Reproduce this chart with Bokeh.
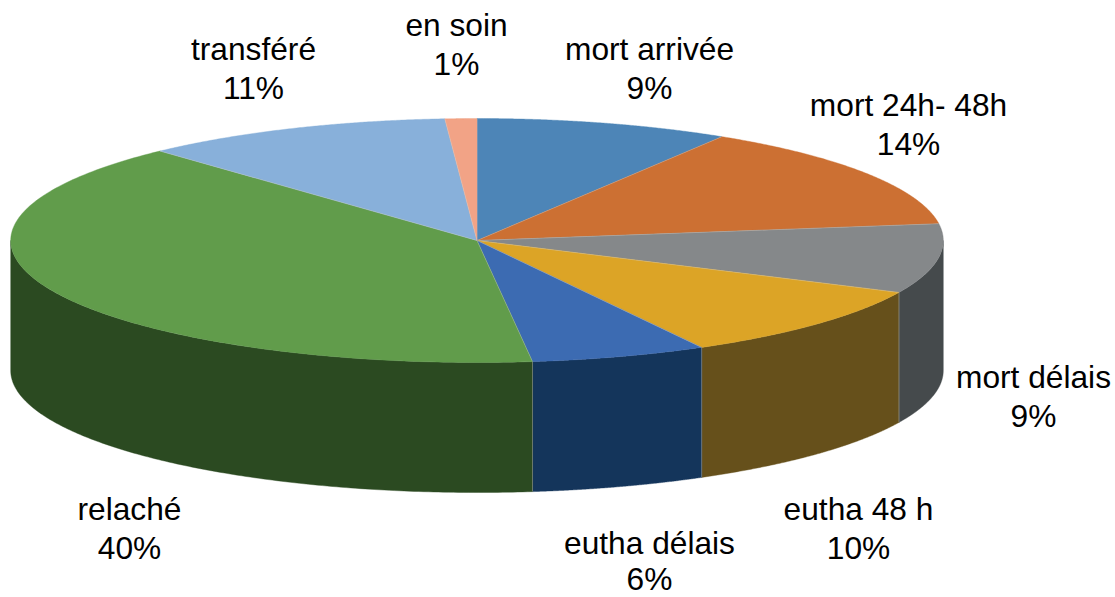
import numpy as np
from bokeh.embed import file_html
from bokeh.resources import INLINE
from bokeh.plotting import figure
from bokeh.models import Range1d
from bokeh.core.properties import value

categories = ["mort arrivée", "mort 24h- 48h", "mort délais", "eutha 48 h",
              "eutha délais", "relaché", "transféré", "en soin"]
shares = [8.8, 14.0, 9.2, 10.0, 6.1, 40.0, 10.8, 1.1]
percent_labels = ["9%", "14%", "9%", "10%", "6%", "40%", "11%", "1%"]
top_colors = ["#4d85b7", "#cc7033", "#85888a", "#dca426", "#3c6bb2", "#619c4b", "#88b0da", "#f2a386"]
side_colors = ["#2d4f6e", "#7a431e", "#454a4c", "#66501b", "#14355b", "#2b4a21", "#52698a", "#915f4f"]
label_x = [649, 908, 1033, 858, 649, 129, 253, 456]
label_y = [48, 104, 376, 508, 542, 508, 48, 24]
pct_y = [87, 143, 415, 547, 578, 547, 87, 63]

W, H = 1115, 597
CX, CY, RX, RY, DEPTH = 476.5, 240, 466.3, 122, 130

p = figure(width=W, height=H, output_backend="svg", toolbar_location=None,
           x_range=Range1d(0, W), y_range=Range1d(H, 0),
           min_border=0, outline_line_color=None)
p.axis.visible = False
p.grid.visible = False
p.background_fill_color = "white"
p.border_fill_color = "white"


def ex(a):
    return CX + RX * np.sin(a)


def ey(a):
    return CY - RY * np.cos(a)


edges = np.radians(np.cumsum([0] + shares) / sum(shares) * 360)

# front wall pieces
for i, col in enumerate(side_colors):
    a0, a1 = max(edges[i], np.pi / 2), min(edges[i + 1], 3 * np.pi / 2)
    if a1 <= a0:
        continue
    t = np.linspace(a0, a1, 160)
    xs = np.r_[ex(t), ex(t[::-1])]
    ys = np.r_[ey(t), ey(t[::-1]) + DEPTH]
    p.patch(xs, ys, fill_color=col, line_color=col, line_width=0.4)
    for a in (a0, a1):
        if np.pi / 2 < a < 3 * np.pi / 2:
            p.line([ex(a), ex(a)], [ey(a), ey(a) + DEPTH], line_color="#9a9c9c", line_alpha=0.7, line_width=0.7)

# top face
for i, col in enumerate(top_colors):
    t = np.linspace(edges[i], edges[i + 1], 160)
    xs = np.r_[CX, ex(t)]
    ys = np.r_[CY, ey(t)]
    p.patch(xs, ys, fill_color=col, line_color=col, line_width=0.4)
    a = edges[i]
    p.line([CX, ex(a)], [CY, ey(a)], line_color="#d9d2c8", line_alpha=0.5, line_width=0.6)

for name, pct, lx, ly, py in zip(categories, percent_labels, label_x, label_y, pct_y):
    p.text([lx], [ly], text=[name], text_align="center", text_baseline="middle",
           text_font=value("Liberation Sans"), text_font_size="31.7px", text_color="#000000")
    p.text([lx], [py], text=[pct], text_align="center", text_baseline="middle",
           text_font=value("Liberation Sans"), text_font_size="31.7px", text_color="#000000")

open("out.html", "w").write(file_html(p, INLINE))
